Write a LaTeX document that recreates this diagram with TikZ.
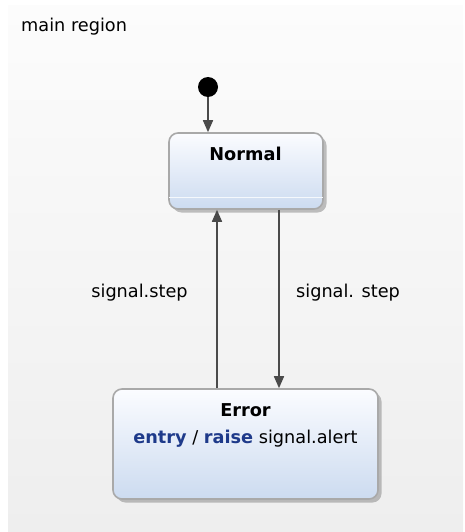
\documentclass[tikz,border=0pt]{standalone}
\usepackage{fontspec}
\setmainfont{DejaVu Sans}
\usetikzlibrary{arrows.meta,shadows,calc}
\definecolor{regtop}{HTML}{FCFCFC}
\definecolor{regbot}{HTML}{EEEEEE}
\definecolor{boxtop}{HTML}{FBFCFF}
\definecolor{boxbot}{HTML}{CCDBF0}
\definecolor{boxline}{HTML}{A9A9A9}
\definecolor{arrcol}{HTML}{4A4A4A}
\definecolor{kw}{HTML}{1E3A8A}
\tikzset{
  txt/.style={font=\fontsize{17.7}{21}\selectfont, inner sep=0pt},
  btxt/.style={font=\fontsize{17.7}{21}\selectfont\bfseries, inner sep=0pt},
  statebox/.style={draw=boxline, line width=1.6pt, rounded corners=9pt,
    top color=boxtop, bottom color=boxbot, inner sep=0pt,
    drop shadow={shadow xshift=3.5pt, shadow yshift=-3.5pt, fill=black!45, opacity=0.55}},
  arr/.style={draw=arrcol, line width=1.6pt, -{Triangle[length=12pt,width=10pt]}}
}
\begin{document}
\begin{tikzpicture}[x=1pt,y=-1pt]
\useasboundingbox (0,0) rectangle (465,532);
\shade[top color=regtop, bottom color=regbot] (8,6) rectangle (463,532);
\node[txt, anchor=base west] (reg) at (21,32) {main region};
% initial
\node[circle, fill=black, minimum size=20pt, inner sep=0pt] (init) at (208,87) {};
% Normal
\node[statebox, minimum width=154pt, minimum height=76pt] (normal) at (246,171) {};
\node[btxt] (normalt) at (245.5,154) {Normal};
\draw[draw=white!80!boxbot, line width=1pt] ($(normal.south west)+(1,-12)$) -- ($(normal.south east)+(-1,-12)$);
% Error
\node[statebox, minimum width=265pt, minimum height=110pt] (error) at (245.5,444) {};
\node[btxt] (errort) at (245.5,410) {Error};
\node[txt, anchor=base] (erra) at (245.5,443) {\textbf{\color{kw}entry} / \textbf{\color{kw}raise} signal.alert};
% transitions
\coordinate (L) at (217,0);
\coordinate (R) at (279,0);
\draw[arr] (init) -- (normal.north -| init);
\draw[arr] (error.north -| L) -- (normal.south -| L);
\draw[arr] (normal.south -| R) -- (error.north -| R);
\node[txt] (lab1) at (139.5,293) {signal.step};
\node[txt] (lab2) at (348,293) {signal. step};
\end{tikzpicture}
\end{document}
